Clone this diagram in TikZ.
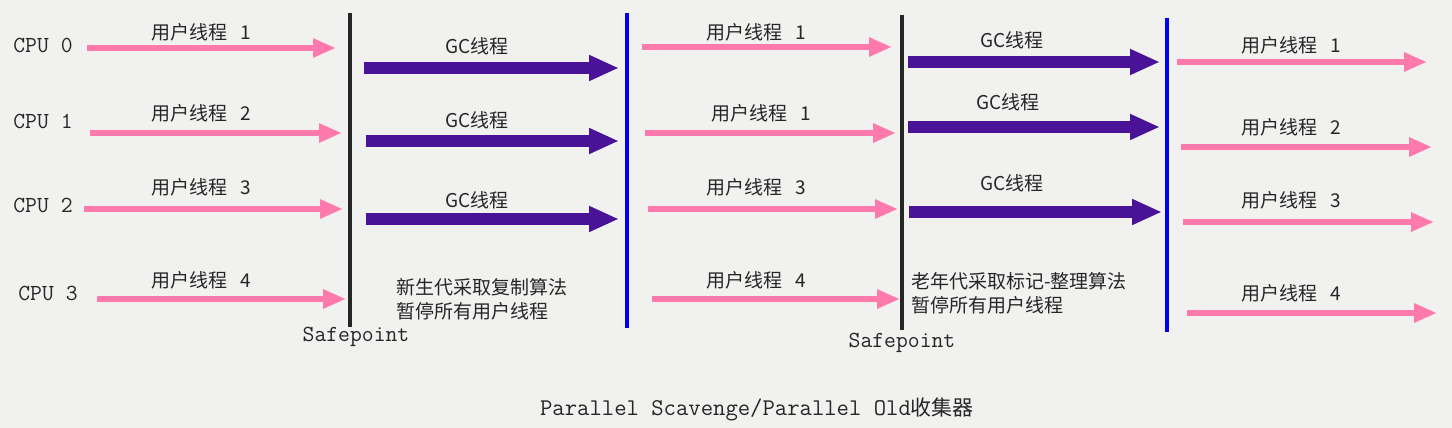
\documentclass[tikz,border=0pt]{standalone}
\usepackage{fontspec}
\setmainfont{Noto Sans CJK SC}
\usetikzlibrary{arrows.meta}
\definecolor{userpink}{HTML}{FF7AAC}
\definecolor{gcpurple}{HTML}{4A1296}
\definecolor{paper}{HTML}{F1F1F0}
\definecolor{ink}{HTML}{262626}
\tikzset{user/.style={userpink, line width=6pt, -{Triangle[length=23pt,width=18pt]}},
  gc/.style={gcpurple, line width=12pt, -{Triangle[length=30pt,width=24pt]}},
  safepoint/.style={ink, line width=4pt},
  resume/.style={blue!95!black, line width=4pt},
  lbl/.style={text=ink, font=\fontsize{19}{24}\selectfont, inner sep=0pt},
  mono/.style={text=ink, font=\ttfamily\fontsize{23}{26}\selectfont, inner sep=0pt}}
\newcommand{\userthread}[1]{用户线程\hspace{0.7em}#1}

\begin{document}
\begin{tikzpicture}[x=1pt, y=-1pt]
    \fill[paper] (0,0) rectangle (1452,428);
    \useasboundingbox (0,0) rectangle (1452,428);
    %Barriers
    \draw[safepoint] (350,13) -- (350,327);
    \draw[resume] (627,13) -- (627,328);
    \draw[safepoint] (902,15) -- (902,330);
    \draw[resume] (1167,18) -- (1167,332);
    \node[mono] (sp1) at (356,337) {Safepoint};
    \node[mono] (sp2) at (902,343) {Safepoint};
    %CPUs
    \node[mono] (cpu0) at (43,45) {CPU 0};
    \node[mono] (cpu1) at (43,121) {CPU 1};
    \node[mono] (cpu2) at (43,205) {CPU 2};
    \node[mono] (cpu3) at (48,293) {CPU 3};
    %Mutator threads before the first safepoint
    \draw[user] (87,48) -- (336,48);
    \draw[user] (90,133) -- (342,133);
    \draw[user] (84,209) -- (343,209);
    \draw[user] (97,299) -- (346,299);
    \node[lbl] (u01) at (201,32) {\userthread{1}};
    \node[lbl] (u11) at (201,113) {\userthread{2}};
    \node[lbl] (u21) at (201,187) {\userthread{3}};
    \node[lbl] (u31) at (201,280) {\userthread{4}};
    %Young generation GC
    \draw[gc] (364,68) -- (619,68);
    \draw[gc] (366,141) -- (619,141);
    \draw[gc] (366,219) -- (619,219);
    \node[lbl] (g01) at (477,46) {GC线程};
    \node[lbl] (g11) at (477,120) {GC线程};
    \node[lbl] (g21) at (477,200) {GC线程};
    \node[lbl, align=left, anchor=west] (young) at (396,299) {新生代采取复制算法\\暂停所有用户线程};
    %Mutator threads between the collections
    \draw[user] (642,47) -- (892,47);
    \draw[user] (645,133) -- (896,133);
    \draw[user] (648,209) -- (898,209);
    \draw[user] (652,299) -- (900,299);
    \node[lbl] (u02) at (756,32) {\userthread{1}};
    \node[lbl] (u12) at (761,113) {\userthread{1}};
    \node[lbl] (u22) at (756,187) {\userthread{3}};
    \node[lbl] (u32) at (756,280) {\userthread{4}};
    %Old generation GC
    \draw[gc] (908,62) -- (1160,62);
    \draw[gc] (908,127) -- (1160,127);
    \draw[gc] (909,212) -- (1162,212);
    \node[lbl] (g02) at (1012,40) {GC线程};
    \node[lbl] (g12) at (1008,102) {GC线程};
    \node[lbl] (g22) at (1012,183) {GC线程};
    \node[lbl, align=left, anchor=west] (old) at (911,293) {老年代采取标记-整理算法\\暂停所有用户线程};
    %Mutator threads after the second collection
    \draw[user] (1177,62) -- (1427,62);
    \draw[user] (1181,147) -- (1432,147);
    \draw[user] (1183,222) -- (1434,222);
    \draw[user] (1187,313) -- (1437,313);
    \node[lbl] (u03) at (1291,45) {\userthread{1}};
    \node[lbl] (u13) at (1291,127) {\userthread{2}};
    \node[lbl] (u23) at (1291,200) {\userthread{3}};
    \node[lbl] (u33) at (1291,293) {\userthread{4}};
    %Caption
    \node[mono, font=\ttfamily\fontsize{24}{26}\selectfont] (title) at (757,409) {Parallel Scavenge/Parallel Old{\rmfamily\fontsize{21}{24}\selectfont 收集器}};
\end{tikzpicture}
\end{document}
